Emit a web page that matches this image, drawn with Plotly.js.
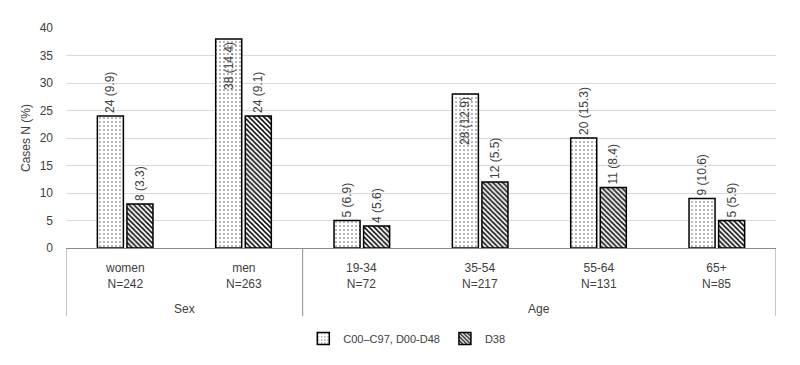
<!DOCTYPE html>
<html><head><meta charset="utf-8">
<script src="https://cdn.plot.ly/plotly-3.0.1.min.js"></script>
<style>html,body{margin:0;padding:0;background:#fff}#chart{width:800px;height:365px}</style>
</head><body><div id="chart"></div>
<script>
const categories = ["women", "men", "19-34", "35-54", "55-64", "65+"];
const groupN = ["N=242", "N=263", "N=72", "N=217", "N=131", "N=85"];
const groups = ["Sex", "Age"];
const groupCenters = [0.5, 3.5];
const groupDividers = [-0.5, 1.5, 5.5];
const seriesNames = ["C00–C97, D00-D48", "D38"];
const c00Values = [24, 38, 5, 28, 20, 9];
const c00Pct = [9.9, 14.4, 6.9, 12.9, 15.3, 10.6];
const d38Values = [8, 24, 4, 12, 11, 5];
const d38Pct = [3.3, 9.1, 5.6, 5.5, 8.4, 5.9];
const yTicks = [0, 5, 10, 15, 20, 25, 30, 35, 40];

const font = "Liberation Sans, Arial, sans-serif";
const txtColor = "#404040";

function labels(v, p) { return v.map((x, i) => x + " (" + p[i] + ")"); }
function positions(v) { return v.map(x => x >= 28 ? "inside" : "outside"); }

const traces = [
  {
    type: "bar", name: seriesNames[0], x: categories, y: c00Values,
    text: labels(c00Values, c00Pct), textposition: positions(c00Values),
    insidetextanchor: "end", textangle: -90, constraintext: "none", cliponaxis: false,
    textfont: {family: font, size: 12, color: txtColor},
    marker: {color: "#fff", line: {color: "#000", width: 1.5},
      pattern: {shape: ".", size: 4, solidity: 0.12, fgcolor: "#555", bgcolor: "#fff"}}
  },
  {
    type: "bar", name: seriesNames[1], x: categories, y: d38Values,
    text: labels(d38Values, d38Pct), textposition: positions(d38Values),
    insidetextanchor: "end", textangle: -90, constraintext: "none", cliponaxis: false,
    textfont: {family: font, size: 12, color: txtColor},
    marker: {color: "#fff", line: {color: "#000", width: 1.5},
      pattern: {shape: "\\", size: 3.5, solidity: 0.45, fgcolor: "#111", bgcolor: "#fff"}}
  }
];

const annotations = [];
categories.forEach((c, i) => {
  annotations.push({x: i, y: 0, xref: "x", yref: "paper", yanchor: "top", yshift: -11,
    text: c + "<br>" + groupN[i], showarrow: false, align: "center",
    font: {family: font, size: 12, color: txtColor}});
});
groups.forEach((g, i) => {
  annotations.push({x: groupCenters[i], y: 0, xref: "x", yref: "paper", yanchor: "top", yshift: -52,
    text: g, showarrow: false, font: {family: font, size: 12, color: txtColor}});
});

const shapes = groupDividers.map(d => ({type: "line", xref: "x", yref: "paper",
  x0: d, x1: d, y0: 0, y1: -0.31, line: {color: "#8c8c8c", width: 1}}));

const layout = {
  width: 800, height: 365,
  margin: {l: 66, r: 24, t: 28, b: 117, autoexpand: false},
  paper_bgcolor: "#fff", plot_bgcolor: "#fff",
  barmode: "group", bargap: 0.5, bargroupgap: 0.12,
  font: {family: font, size: 12, color: txtColor},
  xaxis: {type: "category", showticklabels: false, ticks: "", showgrid: false,
    showline: true, linecolor: "#8c8c8c", linewidth: 1, range: [-0.5, 5.5], fixedrange: true},
  yaxis: {range: [0, 40], tickvals: yTicks, showgrid: true, gridcolor: "#d9d9d9",
    zeroline: false, showline: false, ticks: "", ticklen: 0, ticklabelstandoff: 12,
    tickfont: {family: font, size: 12, color: txtColor},
    title: {text: "Cases N (%)", font: {family: font, size: 12, color: txtColor}, standoff: 6}},
  showlegend: true,
  legend: {orientation: "h", x: 0.48, xanchor: "center", y: -0.345, yanchor: "top",
    font: {family: font, size: 11, color: txtColor}, itemwidth: 30, tracegroupgap: 0},
  annotations: annotations, shapes: shapes
};

Plotly.newPlot("chart", traces, layout, {displayModeBar: false, staticPlot: true});
</script></body></html>
